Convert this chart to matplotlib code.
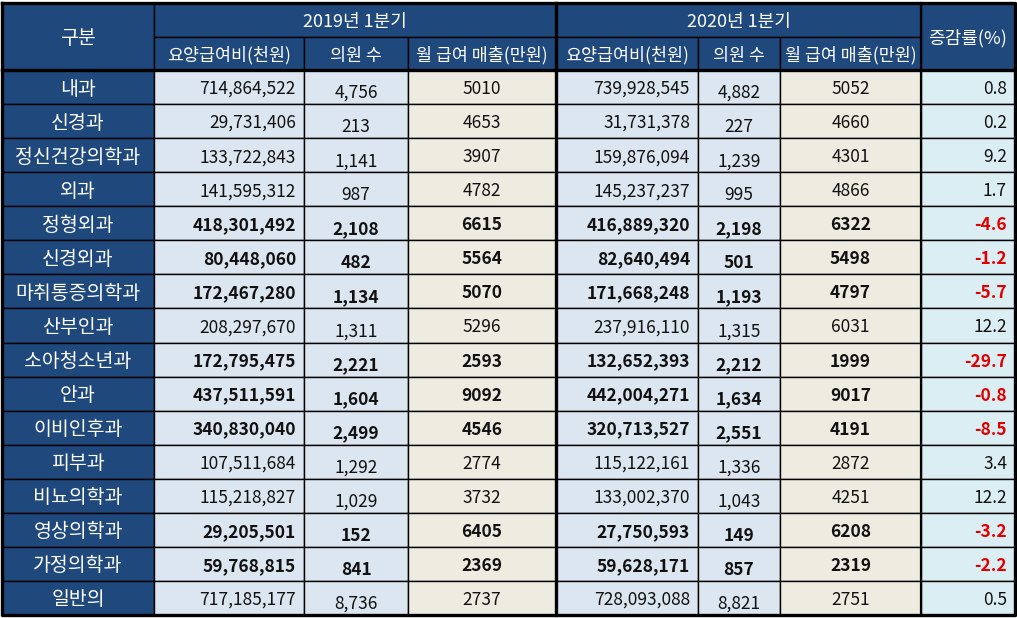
import matplotlib
matplotlib.use('Agg')
import matplotlib.pyplot as plt
from matplotlib.patches import Rectangle

plt.rcParams['font.family'] = ['Noto Sans CJK KR', 'DejaVu Sans']

# table data
depts = ['내과', '신경과', '정신건강의학과', '외과', '정형외과', '신경외과', '마취통증의학과', '산부인과',
         '소아청소년과', '안과', '이비인후과', '피부과', '비뇨의학과', '영상의학과', '가정의학과', '일반의']
pay19 = [714864522, 29731406, 133722843, 141595312, 418301492, 80448060, 172467280, 208297670,
         172795475, 437511591, 340830040, 107511684, 115218827, 29205501, 59768815, 717185177]
doc19 = [4756, 213, 1141, 987, 2108, 482, 1134, 1311, 2221, 1604, 2499, 1292, 1029, 152, 841, 8736]
rev19 = [5010, 4653, 3907, 4782, 6615, 5564, 5070, 5296, 2593, 9092, 4546, 2774, 3732, 6405, 2369, 2737]
pay20 = [739928545, 31731378, 159876094, 145237237, 416889320, 82640494, 171668248, 237916110,
         132652393, 442004271, 320713527, 115122161, 133002370, 27750593, 59628171, 728093088]
doc20 = [4882, 227, 1239, 995, 2198, 501, 1193, 1315, 2212, 1634, 2551, 1336, 1043, 149, 857, 8821]
rev20 = [5052, 4660, 4301, 4866, 6322, 5498, 4797, 6031, 1999, 9017, 4191, 2872, 4251, 6208, 2319, 2751]
rate = [0.8, 0.2, 9.2, 1.7, -4.6, -1.2, -5.7, 12.2, -29.7, -0.8, -8.5, 3.4, 12.2, -3.2, -2.2, 0.5]

groups = ['2019년 1분기', '2020년 1분기']
subheads = ['요양급여비(천원)', '의원 수', '월 급여 매출(만원)']

# layout (pixels)
W, H = 1017, 618
xs = [2, 154, 304, 408, 556, 698, 780, 921, 1015]
y_top, y_mid, y_head = 3, 37, 70
row_h = (615 - y_head) / len(depts)
dy = 2  # nudge text down, CJK font sits high

NAVY = '#1F497D'
BLUE = '#DCE6F1'
BEIGE = '#EEECE1'
CYAN = '#DAEEF3'
col_fill = [BLUE, BLUE, BEIGE, BLUE, BLUE, BEIGE, CYAN]
FS = 12.5
FS_HEAD = 13
FS_DEPT = 14

fig = plt.figure(figsize=(W / 100, H / 100), dpi=100)
ax = fig.add_axes([0, 0, 1, 1])
ax.set_xlim(0, W)
ax.set_ylim(H, 0)
ax.axis('off')

def cell(x0, y0, x1, y1, color):
    ax.add_patch(Rectangle((x0, y0), x1 - x0, y1 - y0, facecolor=color,
                           edgecolor='black', linewidth=1.0))

# header
cell(xs[0], y_top, xs[1], y_head, NAVY)
ax.text((xs[0] + xs[1]) / 2, (y_top + y_head) / 2 + dy, '구분', color='white', fontsize=FS_DEPT,
        ha='center', va='center')
for g, name in enumerate(groups):
    a, b = xs[1 + 3 * g], xs[4 + 3 * g]
    cell(a, y_top, b, y_mid, NAVY)
    ax.text((a + b) / 2, (y_top + y_mid) / 2 + dy, name, color='white', fontsize=FS_HEAD,
            ha='center', va='center')
    for k, sh in enumerate(subheads):
        c0, c1 = xs[1 + 3 * g + k], xs[2 + 3 * g + k]
        cell(c0, y_mid, c1, y_head, NAVY)
        ax.text((c0 + c1) / 2, (y_mid + y_head) / 2 + dy, sh, color='white', fontsize=FS,
                ha='center', va='center')
cell(xs[7], y_top, xs[8], y_head, NAVY)
ax.text((xs[7] + xs[8]) / 2, (y_top + y_head) / 2 + dy, '증감률(%)', color='white',
        fontsize=FS_HEAD, ha='center', va='center')

# body
for i, d in enumerate(depts):
    y0 = y_head + i * row_h
    y1 = y0 + row_h
    yc = (y0 + y1) / 2 + dy
    neg = rate[i] < 0
    fw = 'bold' if neg else 'normal'
    cell(xs[0], y0, xs[1], y1, NAVY)
    ax.text((xs[0] + xs[1]) / 2, yc, d, color='white', fontsize=FS_DEPT, ha='center', va='center')
    vals = [f'{pay19[i]:,}', f'{doc19[i]:,}', f'{rev19[i]}',
            f'{pay20[i]:,}', f'{doc20[i]:,}', f'{rev20[i]}', f'{rate[i]:.1f}']
    for j, v in enumerate(vals):
        c0, c1 = xs[1 + j], xs[2 + j]
        cell(c0, y0, c1, y1, col_fill[j])
        color = '#E00000' if (j == 6 and neg) else '#111111'
        if j in (0, 3, 6):
            ax.text(c1 - 8, yc, v, fontsize=FS, ha='right', va='center',
                    color=color, fontweight=fw)
        elif j in (1, 4):
            ax.text((c0 + c1) / 2, yc + 4, v, fontsize=FS, ha='center', va='center',
                    color=color, fontweight=fw)
        else:
            ax.text((c0 + c1) / 2, yc, v, fontsize=FS, ha='center', va='center',
                    color=color, fontweight=fw)

# thick borders
lw = 2.4
ax.plot([xs[0], xs[-1], xs[-1], xs[0], xs[0]], [y_top, y_top, 615, 615, y_top],
        color='black', linewidth=lw)
ax.plot([xs[0], xs[-1]], [y_head, y_head], color='black', linewidth=lw)
ax.plot([xs[4], xs[4]], [y_top, 615], color='black', linewidth=lw)
ax.plot([xs[7], xs[7]], [y_top, 615], color='black', linewidth=1.6)

fig.savefig('out.png', dpi=100)
